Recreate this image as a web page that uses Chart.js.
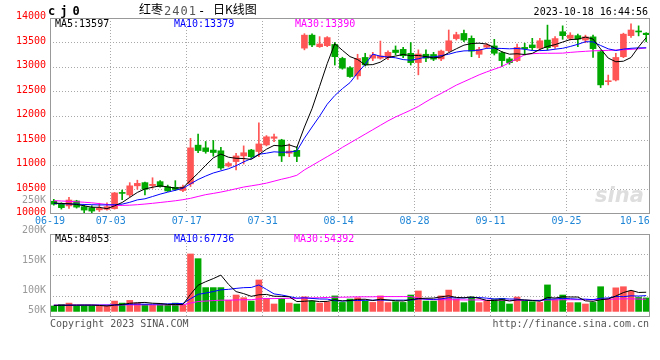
<!DOCTYPE html>
<html><head><meta charset="utf-8">
<script src="https://cdn.jsdelivr.net/npm/chart.js@4.4.0/dist/chart.umd.min.js"></script>
<style>
html,body{margin:0;padding:0;background:#fff;width:660px;height:360px;overflow:hidden}
#wrap{position:relative;width:660px;height:360px}
canvas{position:absolute;left:0;top:0}
.t{position:absolute;white-space:pre;font-family:"DejaVu Sans Mono",monospace;font-size:10px;line-height:10px}
.cjk{font-family:'Noto Sans CJK SC',sans-serif;font-size:12px;line-height:12px;color:#000}
</style></head><body>
<div id="wrap">
<canvas id="vol" width="660" height="360"></canvas>
<canvas id="k" width="660" height="360"></canvas>
<div class="t" style="left:48px;top:5px;font-size:12px;line-height:12px;font-weight:bold;letter-spacing:5px">cj0</div>
<div class="t cjk" style="left:139px;top:3px">红枣</div>
<div class="t" style="left:164px;top:5px;font-size:12px;line-height:12px;letter-spacing:1px;color:#555">2401</div>
<div class="t" style="left:198px;top:5px;font-size:12px;line-height:12px;color:#000">-</div>
<div class="t cjk" style="left:213px;top:3px">日K线图</div>
<div class="t" style="right:12px;top:7px;color:#000">2023-10-18 16:44:56</div>
<div class="t" style="left:55px;top:19px;color:#000">MA5:13597</div>
<div class="t" style="left:174px;top:19px;color:#0000ff">MA10:13379</div>
<div class="t" style="left:295px;top:19px;color:#ff00ff">MA30:13390</div>
<div class="t" style="left:55px;top:234px;color:#000">MA5:84053</div>
<div class="t" style="left:174px;top:234px;color:#0000ff">MA10:67736</div>
<div class="t" style="left:294px;top:234px;color:#ff00ff">MA30:54392</div>
<div class="t" style="left:50px;top:319px;color:#555">Copyright 2023 SINA.COM</div>
<div class="t" style="right:11px;top:319px;color:#555">http://finance.sina.com.cn</div>
<div class="t" style="left:595px;top:185px;font-family:'DejaVu Sans',sans-serif;font-size:21px;line-height:21px;font-style:italic;font-weight:bold;color:#dedede">sina</div>
</div>
<script>
const dates = ["06-19","06-20","06-21","06-26","06-27","06-28","06-29","06-30",
"07-03","07-04","07-05","07-06","07-07","07-10","07-11","07-12","07-13","07-14",
"07-17","07-18","07-19","07-20","07-21","07-24","07-25","07-26","07-27","07-28",
"07-31","08-01","08-02","08-03","08-04","08-07","08-08","08-09","08-10","08-11",
"08-14","08-15","08-16","08-17","08-18","08-21","08-22","08-23","08-24","08-25",
"08-28","08-29","08-30","08-31","09-01","09-04","09-05","09-06","09-07","09-08",
"09-11","09-12","09-13","09-14","09-15","09-18","09-19","09-20","09-21","09-22",
"09-25","09-26","09-27","09-28","10-09","10-10","10-11","10-12","10-13",
"10-16","10-17"];

const opens = [10260,10200,10165,10265,10150,10130,10085,10095,10110,10430,
 10390,10575,10640,10580,10660,10555,10545,10480,10615,11405,
 11350,11305,11290,10980,11070,11185,11305,11275,11410,11545,
 11510,11240,11300,13385,13650,13415,13435,13460,13175,12985,
 12820,13195,13180,13180,13190,13345,13360,13280,13090,13260,
 13255,13165,13335,13580,13685,13585,13260,13405,13430,13290,
 13165,13130,13400,13450,13385,13550,13415,13720,13585,13640,
 13550,13615,13310,12700,12735,13210,13640,13735,13690];
const highs = [10300,10230,10340,10280,10190,10170,10220,10230,10440,10490,
 10640,10690,10650,10740,10680,10590,10680,10590,11545,11630,
 11480,11500,11360,11060,11240,11390,11320,11860,11600,11630,
 11525,11430,11370,13680,13675,13620,13620,13500,13200,13010,
 13260,13280,13300,13530,13330,13430,13400,13500,13350,13350,
 13300,13345,13755,13710,13755,13635,13400,13480,13565,13315,
 13195,13470,13485,13585,13585,13855,13620,13840,13700,13670,
 13650,13650,13345,12835,13280,13690,13880,13840,13700];
const lows = [10180,10100,10115,10120,10020,10010,10050,10080,10100,10290,
 10350,10505,10390,10525,10550,10460,10480,10455,10560,11250,
 11240,11180,10910,10960,10900,11020,11140,11170,11390,11475,
 11070,11170,11070,13350,13415,13400,13415,13040,12955,12785,
 12750,13020,13130,13160,13150,13245,13190,13040,12840,13110,
 13130,13130,13310,13550,13515,13210,13190,13380,13245,13005,
 13055,13110,13245,13345,13345,13345,13380,13565,13550,13415,
 13495,13195,12580,12635,12715,13190,13605,13635,13515];
const closes = [10200,10130,10285,10140,10080,10060,10115,10150,10430,10420,
 10575,10625,10505,10605,10560,10470,10500,10550,11350,11295,
 11275,11255,10940,11030,11185,11250,11170,11430,11575,11575,
 11185,11285,11175,13650,13450,13470,13600,13210,12975,12805,
 13175,13045,13245,13225,13300,13295,13230,13090,13265,13180,
 13160,13325,13535,13660,13550,13325,13360,13450,13280,13130,
 13090,13400,13375,13395,13535,13395,13580,13640,13650,13570,
 13615,13375,12635,12715,13195,13670,13755,13715,13660];

const ma5 = [10225,10215,10210,10195,10167,10139,10136,10109,10167,10235,
 10338,10440,10511,10546,10574,10553,10528,10537,10686,10833,
 10994,11145,11223,11159,11137,11132,11115,11213,11322,11400,
 11387,11410,11359,11774,12149,12606,13069,13476,13341,13212,
 13153,13042,13049,13099,13198,13222,13259,13228,13236,13212,
 13185,13204,13293,13372,13446,13479,13486,13469,13393,13309,
 13262,13270,13255,13278,13359,13420,13456,13509,13560,13567,
 13611,13570,13369,13182,13107,13118,13194,13410,13599];
const ma10 = [10215,10210,10205,10200,10195,10190,10185,10185,10190,10201,
 10239,10288,10310,10357,10405,10446,10484,10524,10616,10704,
 10774,10837,10880,10923,10985,11063,11130,11218,11241,11269,
 11260,11263,11286,11548,11775,11997,12240,12418,12558,12681,
 12880,13056,13263,13220,13205,13188,13151,13139,13168,13205,
 13204,13232,13261,13304,13329,13332,13345,13381,13383,13378,
 13371,13378,13362,13336,13334,13341,13363,13382,13419,13463,
 13516,13513,13439,13371,13337,13365,13382,13390,13391];
const ma30 = [10272,10265,10258,10250,10240,10228,10212,10195,10175,10175,
 10180,10190,10203,10218,10235,10252,10270,10292,10320,10358,
 10395,10420,10448,10480,10515,10550,10575,10600,10630,10670,
 10710,10745,10790,10900,10990,11080,11170,11260,11360,11450,
 11540,11630,11720,11810,11900,11980,12050,12120,12195,12290,
 12380,12460,12545,12630,12700,12770,12840,12900,12955,13010,
 13090,13170,13250,13272,13279,13280,13281,13283,13298,13310,
 13320,13330,13335,13340,13345,13352,13360,13372,13390];

// volumes in thousands
const volumes = [24,31,37,24,24,24,24,24,46,37,
 49,37,31,28,31,28,37,28,256,235,
 106,106,106,50,73,61,46,140,58,33,
 58,37,33,65,46,37,42,69,40,55,
 61,46,40,69,39,43,40,73,91,46,
 46,69,95,55,39,64,39,46,55,58,
 33,64,46,43,40,118,51,73,39,39,
 33,40,110,55,105,110,90,62,60];
const vma5 = [27,27,28,28,28,28,26.6,24,28.4,31,
 36,38.6,40,36.4,35.2,31,31,30.4,76,116.8,
 132.4,146.2,161.8,120.6,88.2,79.2,67.2,74,75.6,67.6,
 67,65.2,43.8,45.2,47.8,43.6,44.6,51.8,46.8,48.6,
 53.4,54.2,48.4,54.2,51,47.4,46.2,52.8,57.2,58.6,
 59.2,65,69.4,62.2,60.8,64.4,58.4,48.6,48.6,52.4,
 46.2,51.2,51.2,48.8,45.2,62.2,59.6,65,64.2,64,
 47,44.8,52.2,55.4,68.6,84,94,84.4,85.4];
const vma10 = [27,27,27.5,27.5,28,28,28,28,28.5,29.5,
 32,32.6,32,32.4,33.1,33.5,34.8,35.2,56.2,76,
 81.7,88.6,96.1,98.3,102.5,105.8,106.7,117.9,98.1,77.9,
 73.1,66.2,58.9,60.4,57.7,55.3,54.9,47.8,46,48.2,
 48.5,49.4,50.1,50.5,49.8,50.4,50.2,50.6,55.7,54.8,
 53.3,55.6,61.1,59.7,59.7,61.8,61.7,59,55.4,56.6,
 55.3,54.8,49.9,48.7,48.8,54.2,55.4,58.1,56.5,54.6,
 54.6,52.2,58.6,59.8,66.3,65.5,69.4,68.3,70.4];
const vma30 = [28,28,28,28.5,28.5,28.5,28.5,28.5,29,29,
 29,29,29,29,29,29,29,29,37,44,
 46,48,50,50,51,52,52,56,57,57,
 58,58,58,60,60,61,62,63,63,64,
 65,65,65,66,66,66,66,66,60,54,
 52,52,52,52,51,51,51,50,50,50,
 49,49,49,49,49,51,51,52,52,52,
 52,52,54,54,55,56,56,55,54.4];

const priceTicks = [10000,10500,11000,11500,12000,12500,13000,13500,14000];
const dateTickIdx = [0,8,18,28,38,48,58,68,77];
const gridIdx = [8,18,28,38,48,58,68];
const volLabelValues = [250,200,150,100,50];

const UP = '#ff5555', DOWN = '#00a800', GRID = '#a8a8a8';
const candleColors = closes.map((c,i)=> c >= opens[i] ? UP : DOWN);
const monoFont = {family:'"DejaVu Sans Mono", monospace', size:10};
const PLOT_W = 600;

const framePlugin = {
  id:'frame',
  afterDraw(chart){
    const {ctx, chartArea:a} = chart;
    ctx.save();
    ctx.strokeStyle = '#999'; ctx.lineWidth = 1; ctx.setLineDash([]);
    ctx.strokeRect(Math.round(a.left)+0.5, Math.round(a.top)+0.5, Math.round(a.right-a.left)-1, Math.round(a.bottom-a.top)-1);
    ctx.restore();
  }
};
const volLabelPlugin = {
  id:'volLabels',
  afterDraw(chart){
    const s = chart.scales.yl, a = chart.chartArea, ctx = chart.ctx;
    ctx.save();
    ctx.fillStyle = '#999';
    ctx.font = '10px "DejaVu Sans Mono", monospace';
    ctx.textAlign = 'right'; ctx.textBaseline = 'middle';
    volLabelValues.forEach(v => {
      const y = Math.min(s.getPixelForValue(v), a.bottom - 6.5);
      ctx.fillText(v + 'K', a.left - 4, y);
    });
    ctx.restore();
  }
};

function lineDs(data, color){
  return {type:'line', data, borderColor:color, borderWidth:1, pointRadius:0, tension:0, fill:false};
}
const xGrid = {offset:true, drawTicks:false, lineWidth:1,
  color: ctx => gridIdx.includes(ctx.index) ? GRID : 'rgba(0,0,0,0)'};

new Chart(document.getElementById('k'), {
  type:'bar',
  data:{
    labels: dates,
    datasets:[
      lineDs(ma5,'#000000'),
      lineDs(ma10,'#0000ff'),
      lineDs(ma30,'#ff00ff'),
      {type:'bar', data: opens.map((o,i)=>[o, closes[i]]), backgroundColor:candleColors, barThickness:6, grouped:false, minBarLength:1},
      {type:'bar', data: lows.map((l,i)=>[l, highs[i]]), backgroundColor:candleColors, barThickness:1, grouped:false}
    ]
  },
  options:{
    responsive:false, animation:false, events:[], devicePixelRatio:1,
    layout:{padding:{left:0,right:10,top:18,bottom:126}},
    plugins:{legend:{display:false}, tooltip:{enabled:false}},
    scales:{
      x:{
        type:'category', offset:true,
        grid: xGrid,
        border:{display:false, dash:[1,2]},
        ticks:{autoSkip:false, maxRotation:0, minRotation:0, padding:1,
          labelOffset: -(PLOT_W/dates.length)/2,
          color:'#1f85d6', font:monoFont,
          callback:(v,i)=> dateTickIdx.includes(i) ? dates[i] : ''},
        afterFit: s => { s.height = 20; s.paddingLeft = 0; s.paddingRight = 0; }
      },
      y:{
        min:10000, max:14000,
        afterBuildTicks: s => { s.ticks = priceTicks.map(v=>({value:v})); },
        grid:{drawTicks:false, lineWidth:1,
          color: ctx => (ctx.tick && ctx.tick.value > priceTicks[0] && ctx.tick.value < priceTicks[priceTicks.length-1]) ? GRID : 'rgba(0,0,0,0)'},
        border:{display:false, dash:[1,2]},
        ticks:{color:'#ff0000', padding:4, labelOffset:-1.5, font:monoFont, callback:v=>String(v)},
        afterFit: s => { s.width = 50; s.paddingTop = 0; s.paddingBottom = 0; }
      }
    }
  },
  plugins:[framePlugin]
});

const volMin = -25, volMax = 345;
new Chart(document.getElementById('vol'), {
  type:'bar',
  data:{
    labels: dates,
    datasets:[
      lineDs(vma5,'#000000'),
      lineDs(vma10,'#0000ff'),
      lineDs(vma30,'#ff00ff'),
      {type:'bar', data: volumes, backgroundColor:candleColors, barThickness:6, grouped:false}
    ]
  },
  options:{
    responsive:false, animation:false, events:[], devicePixelRatio:1,
    layout:{padding:{left:0,right:10,top:234,bottom:43}},
    plugins:{legend:{display:false}, tooltip:{enabled:false}},
    scales:{
      x:{
        type:'category', offset:true,
        grid: xGrid,
        border:{display:false, dash:[1,2]},
        ticks:{display:false},
        afterFit: s => { s.height = 0; s.paddingLeft = 0; s.paddingRight = 0; }
      },
      y:{
        min:volMin, max:volMax,
        afterBuildTicks: s => { s.ticks = [0,1,2,3,4].map(k=>({value: volMin + k*(volMax-volMin)/4})); },
        grid:{drawTicks:false, lineWidth:1, color: ctx => (ctx.index>0 && ctx.index<4) ? GRID : 'rgba(0,0,0,0)'},
        border:{display:false, dash:[1,2]},
        ticks:{display:false},
        afterFit: s => { s.width = 50; s.paddingTop = 0; s.paddingBottom = 0; }
      },
      yl:{axis:'y', position:'left', display:false, min:55.8, max:194.2}
    }
  },
  plugins:[framePlugin, volLabelPlugin]
});
</script>
</body></html>
